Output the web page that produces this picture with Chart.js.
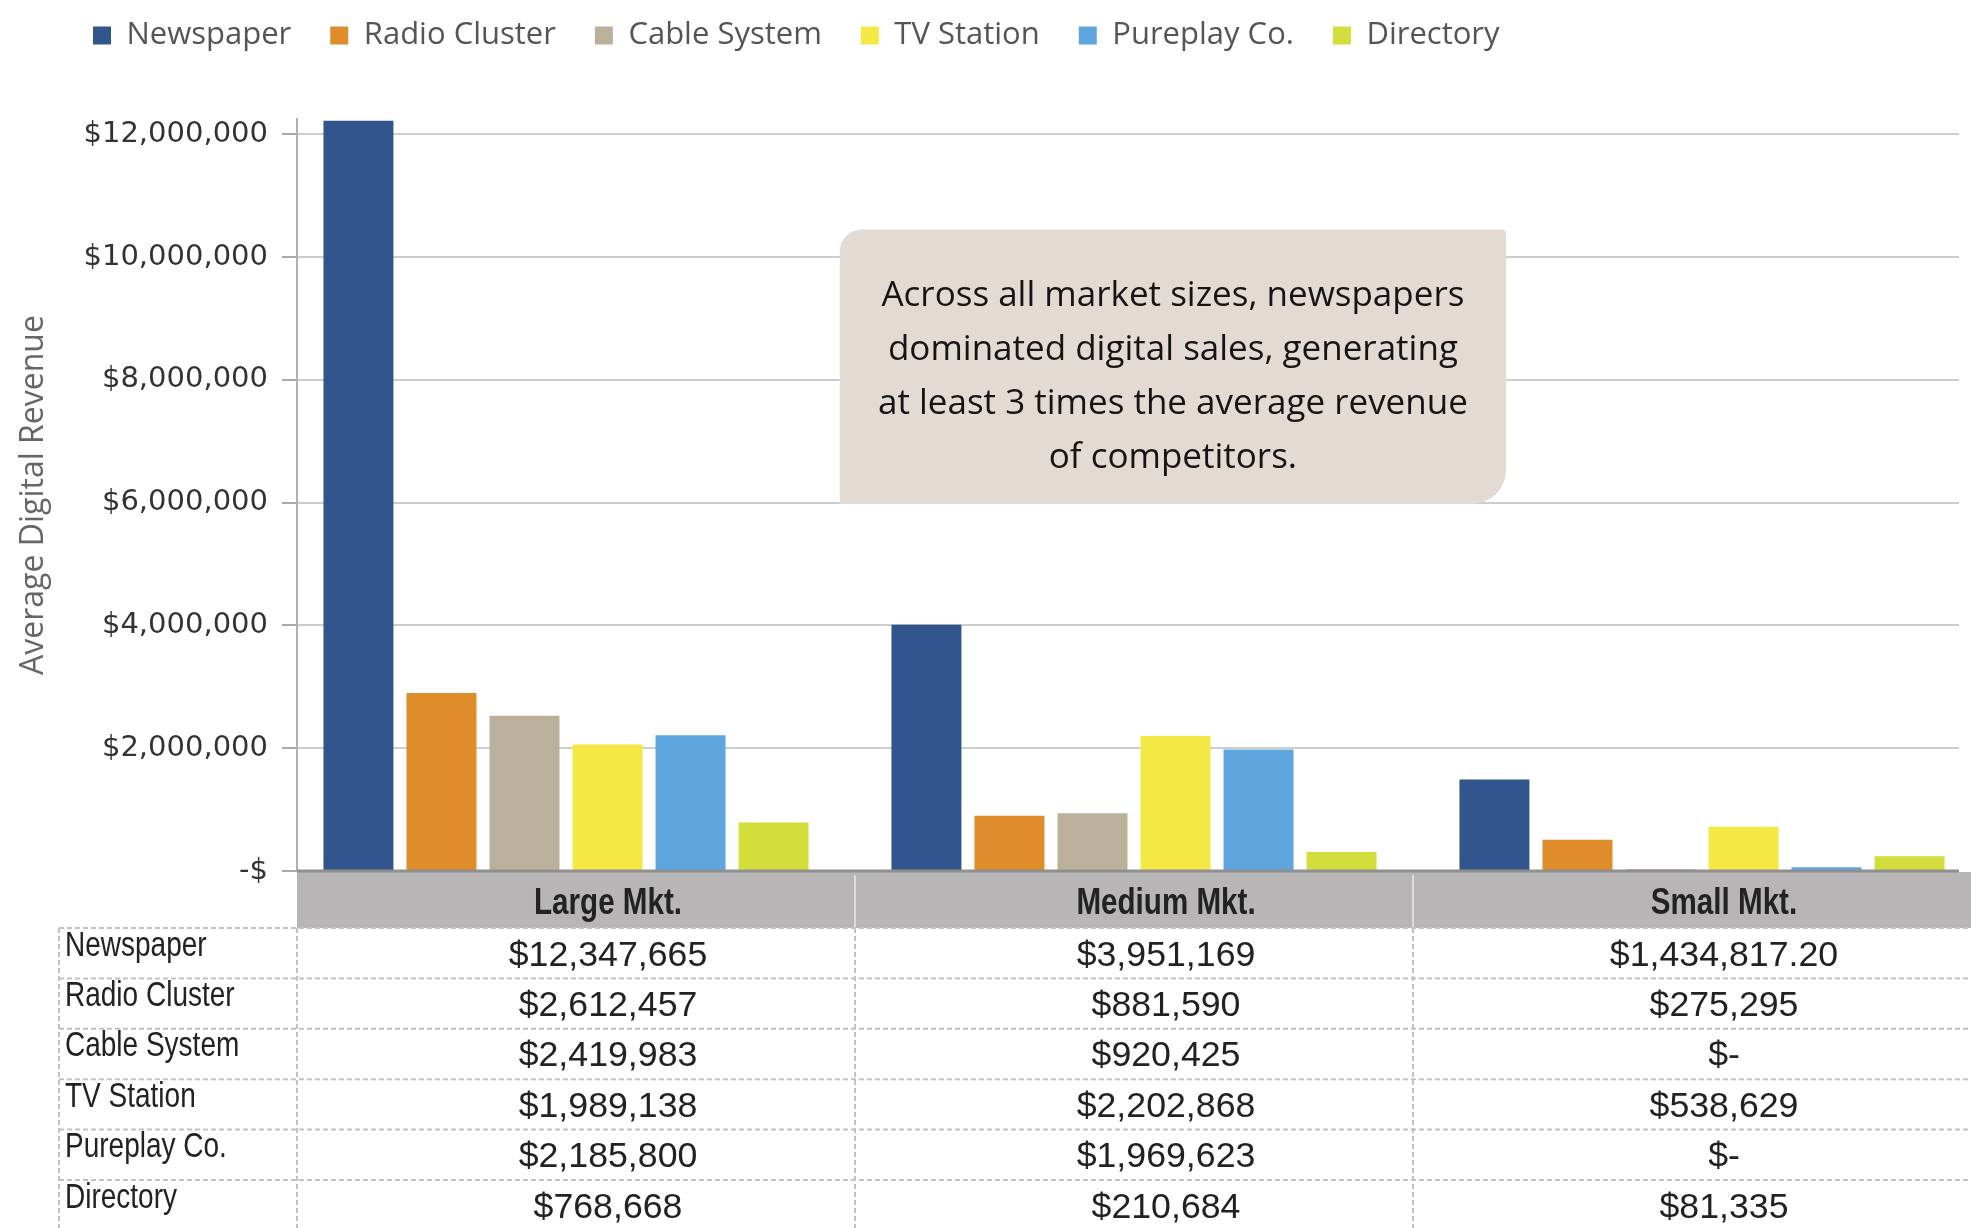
<!DOCTYPE html>
<html>
<head>
<meta charset="utf-8">
<script src="https://cdn.jsdelivr.net/npm/chart.js@4.4.1/dist/chart.umd.min.js"></script>
<style>
  html, body { margin: 0; padding: 0; background: #fff; }
  canvas { display: block; }
</style>
</head>
<body>
<canvas id="revenue-chart" width="1971" height="1228"></canvas>
<script>
// categories and series
const markets = ["Large Mkt.", "Medium Mkt.", "Small Mkt."];
const companies = ["Newspaper", "Radio Cluster", "Cable System", "TV Station", "Pureplay Co.", "Directory"];
const colors = ["#31558c", "#df8c2b", "#bbb19b", "#f4e944", "#5fa6df", "#d3de3c"];

// bar heights as plotted
const newspaper = [12220000, 4010000, 1490000];
const radioCluster = [2900000, 900000, 510000];
const cableSystem = [2530000, 940000, 30000];
const tvStation = [2060000, 2200000, 720000];
const pureplayCo = [2210000, 1980000, 60000];
const directory = [790000, 310000, 240000];

// figures printed in the table under the chart
const tableLarge = ["$12,347,665", "$2,612,457", "$2,419,983", "$1,989,138", "$2,185,800", "$768,668"];
const tableMedium = ["$3,951,169", "$881,590", "$920,425", "$2,202,868", "$1,969,623", "$210,684"];
const tableSmall = ["$1,434,817.20", "$275,295", "$-", "$538,629", "$-", "$81,335"];

const yTicks = [0, 2000000, 4000000, 6000000, 8000000, 10000000, 12000000];
const note = [
  "Across all market sizes, newspapers",
  "dominated digital sales, generating",
  "at least 3 times the average revenue",
  "of competitors."
];

const series = [newspaper, radioCluster, cableSystem, tvStation, pureplayCo, directory];
const tableCols = [tableLarge, tableMedium, tableSmall];

function narrowText(ctx, text, x, y, font, sx, align) {
  ctx.save();
  ctx.font = font;
  ctx.fillStyle = "#222";
  ctx.textAlign = align;
  ctx.textBaseline = "middle";
  ctx.translate(x, y);
  ctx.scale(sx, 1);
  ctx.fillText(text, 0, 0);
  ctx.restore();
}

// bar groups in the original sit on a slightly wider band than the plot
const widenX = {
  id: "widenX",
  afterLayout(chart) {
    const x = chart.scales.x;
    x.left = chart.chartArea.left - 15;
    x.right = chart.width + 15;
    x.width = x.right - x.left;
    x.configure();
  }
};

// move the legend to where the original sits
const legendPlace = {
  id: "legendPlace",
  beforeDraw(chart) {
    chart.legend.left = 54;
    chart.legend.top = -19;
  }
};

// the callout box
const notePlugin = {
  id: "note",
  afterDatasetsDraw(chart) {
    const { ctx, scales: { x, y } } = chart;
    const left = x.getPixelForValue(0.482);
    const right = x.getPixelForValue(1.655);
    const top = y.getPixelForValue(10450000);
    const bottom = y.getPixelForValue(5980000);
    ctx.save();
    ctx.fillStyle = "#e3dad3";
    ctx.beginPath();
    ctx.roundRect(left, top, right - left, bottom - top, [22, 4, 34, 0]);
    ctx.fill();
    ctx.fillStyle = "#151515";
    ctx.font = "35px 'Open Sans'";
    ctx.textAlign = "center";
    ctx.textBaseline = "middle";
    const cx = (left + right) / 2;
    note.forEach((line, i) => {
      ctx.fillText(line, cx, top + 67 + i * 54);
    });
    ctx.restore();
  }
};

// data table under the plot
const tablePlugin = {
  id: "dataTable",
  afterDraw(chart) {
    const { ctx, chartArea } = chart;
    const W = chart.width;
    const H = chart.height;
    const left = chartArea.left;
    const colW = (W - left) / markets.length;
    const headTop = chartArea.bottom + 1;
    const headBottom = 928;
    const rowH = 50.4;
    const labelLeft = 59;
    const textShift = 32;

    ctx.save();
    ctx.fillStyle = "#b7b5b5";
    ctx.fillRect(left, headTop, W - left, headBottom - headTop);

    // x axis line
    ctx.strokeStyle = "#8f8f8f";
    ctx.lineWidth = 3;
    ctx.beginPath();
    ctx.moveTo(left, chartArea.bottom);
    ctx.lineTo(chartArea.right, chartArea.bottom);
    ctx.stroke();

    // header dividers
    ctx.strokeStyle = "#dcdcdc";
    ctx.lineWidth = 2;
    for (let i = 1; i < markets.length; i++) {
      const px = Math.round(left + i * colW);
      ctx.beginPath();
      ctx.moveTo(px, headTop + 3);
      ctx.lineTo(px, headBottom);
      ctx.stroke();
    }

    markets.forEach((m, i) => {
      narrowText(ctx, m, left + (i + 0.5) * colW + textShift, (headTop + headBottom) / 2 + 4,
        "bold 37px 'Liberation Sans'", 0.8, "center");
    });

    // dashed grid
    ctx.strokeStyle = "#c2c2c2";
    ctx.lineWidth = 2;
    ctx.setLineDash([5, 3]);
    for (let r = 0; r < companies.length; r++) {
      const yy = headBottom + r * rowH;
      ctx.beginPath();
      ctx.moveTo(labelLeft, yy);
      ctx.lineTo(W, yy);
      ctx.stroke();
    }
    const vLines = [labelLeft, left];
    for (let i = 1; i < markets.length; i++) vLines.push(left + i * colW);
    vLines.forEach(px => {
      ctx.beginPath();
      ctx.moveTo(Math.round(px), headBottom);
      ctx.lineTo(Math.round(px), H);
      ctx.stroke();
    });
    ctx.setLineDash([]);

    companies.forEach((c, r) => {
      const rowTop = headBottom + r * rowH;
      narrowText(ctx, c, labelLeft + 6, rowTop + 18, "35px 'Liberation Sans'", 0.8, "left");
      tableCols.forEach((col, i) => {
        narrowText(ctx, col[r], left + (i + 0.5) * colW + textShift, rowTop + 28,
          "35px 'Liberation Sans'", 1.02, "center");
      });
    });
    ctx.restore();
  }
};

Chart.defaults.font.family = "'Open Sans', sans-serif";
Chart.defaults.color = "#444";

const ctx = document.getElementById("revenue-chart").getContext("2d");

const data = {
  labels: markets,
  datasets: companies.map((name, i) => ({
    label: name,
    data: series[i],
    backgroundColor: colors[i],
    borderWidth: 0,
    categoryPercentage: 0.877,
    barPercentage: 0.843
  }))
};

const config = {
  type: "bar",
  data: data,
  plugins: [widenX, legendPlace, notePlugin, tablePlugin],
  options: {
    responsive: false,
    animation: false,
    layout: { padding: { top: 39, right: 12, left: 0, bottom: 0 } },
    plugins: {
      legend: {
        position: "top",
        align: "start",
        labels: {
          boxWidth: 18,
          boxHeight: 18,
          padding: 39,
          color: "#555",
          font: { size: 31, family: "'Open Sans', sans-serif" }
        }
      },
      tooltip: { enabled: false }
    },
    scales: {
      x: {
        grid: { display: false },
        ticks: { display: false },
        border: { display: false },
        afterFit: (s) => { s.height = 357; }
      },
      y: {
        min: 0,
        max: 12250000,
        afterFit: (s) => { s.width = 297; },
        afterBuildTicks: (s) => { s.ticks = yTicks.map(v => ({ value: v })); },
        grid: {
          color: "#cdcdcd",
          lineWidth: 2,
          tickLength: 15,
          tickColor: "#a9a9a9"
        },
        border: { color: "#b0b0b0", width: 2 },
        ticks: {
          padding: 14,
          color: "#333",
          font: { size: 29, family: "'DejaVu Sans', sans-serif" },
          callback: (v) => v === 0 ? "-$" : "$" + v.toLocaleString("en-US")
        },
        title: {
          display: true,
          text: "Average Digital Revenue",
          color: "#666",
          padding: { top: 15, bottom: 0 },
          font: { size: 32, family: "'Open Sans', sans-serif" }
        }
      }
    }
  }
};

const revenueChart = new Chart(ctx, config);
</script>
</body>
</html>
